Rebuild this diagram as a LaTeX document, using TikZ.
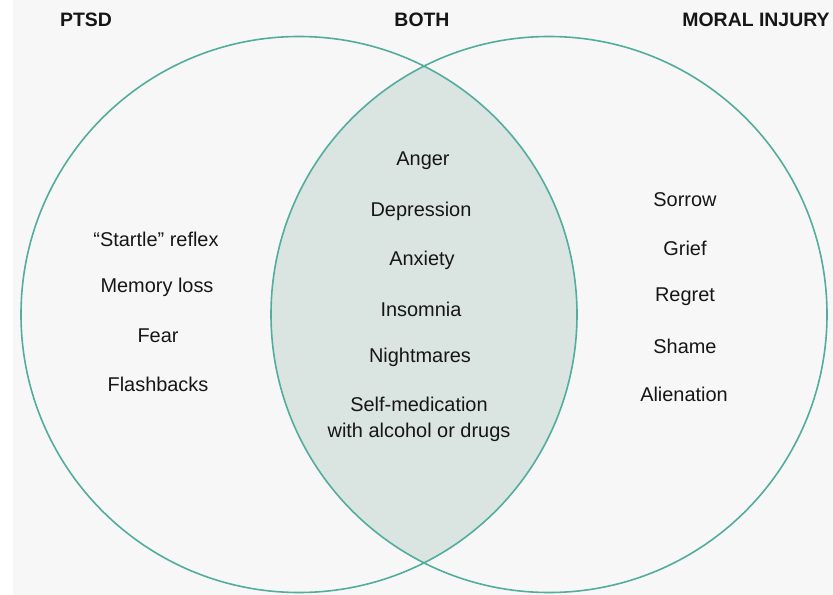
\documentclass[tikz,border=0pt]{standalone}
\usepackage{fontspec}
\setmainfont{Liberation Sans}
\definecolor{bgcol}{HTML}{F7F7F7}
\definecolor{ringcol}{HTML}{52AD9C}
\definecolor{lenscol}{HTML}{DAE4E1}
\definecolor{txtcol}{HTML}{161616}
\begin{document}
\begin{tikzpicture}[x=1bp,y=-1bp,
  item/.style={text=txtcol,font=\fontsize{20}{24}\selectfont,inner sep=0pt,align=center},
  head/.style={text=txtcol,font=\fontsize{19.5}{23}\selectfont\bfseries,inner sep=0pt},
  ring/.style={draw=ringcol,line width=1.6bp}]
\useasboundingbox (0,0) rectangle (833,595);
\fill[white] (0,0) rectangle (833,595);
\fill[bgcol] (13,0) rectangle (833,595);
\coordinate (cl) at (299,314.5);
\coordinate (cr) at (549,314.5);
\begin{scope}
  \clip (cl) circle[radius=278];
  \fill[lenscol] (cr) circle[radius=278];
\end{scope}
\draw[ring] (cl) circle[radius=278];
\draw[ring] (cr) circle[radius=278];
% headers
\node[head] (hptsd) at (86,19.5) {PTSD};
\node[head] (hboth) at (422,19.5) {BOTH};
\node[head] (hmoral) at (756,19.5) {MORAL INJURY};
% left
\node[item] (l1) at (156,239) {“Startle” reflex};
\node[item] (l2) at (157,287) {Memory loss};
\node[item] (l3) at (158,336) {Fear};
\node[item] (l4) at (158,384) {Flashbacks};
% middle
\node[item] (m1) at (423,161) {Anger};
\node[item] (m2) at (421,211) {Depression};
\node[item] (m3) at (422,260) {Anxiety};
\node[item] (m4) at (421,309) {Insomnia};
\node[item] (m5) at (420,357) {Nightmares};
\node[item,align=center] (m6) at (419,419) {Self-medication\\[2pt]with alcohol or drugs};
% right
\node[item] (r1) at (685,200) {Sorrow};
\node[item] (r2) at (685,248) {Grief};
\node[item] (r3) at (685,297) {Regret};
\node[item] (r4) at (685,346) {Shame};
\node[item] (r5) at (684,394) {Alienation};
\end{tikzpicture}
\end{document}
